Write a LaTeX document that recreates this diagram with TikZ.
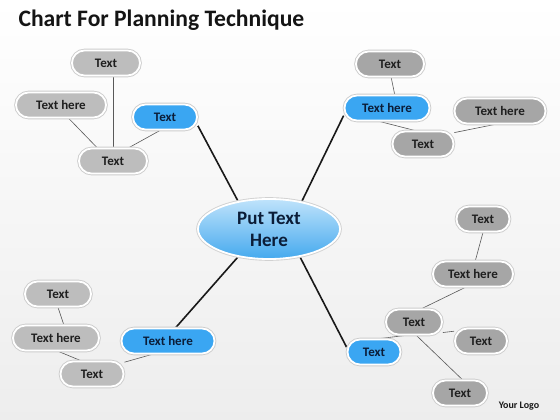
\documentclass[tikz,border=0pt]{standalone}
\usepackage{fontspec}
\setmainfont{Carlito}
\usetikzlibrary{backgrounds,calc,shapes.geometric}
\definecolor{gl}{HTML}{BDBDBD}
\definecolor{gd}{HTML}{A6A6A6}
\definecolor{bl}{HTML}{3AA6F2}
\definecolor{navy}{HTML}{0B1D38}
\definecolor{ctop}{HTML}{BFE3FB}
\definecolor{cbot}{HTML}{45A9EE}
\tikzset{
  pill/.style={rounded corners=12.5pt, minimum height=25pt, inner sep=0pt,
    draw=white, line width=1.8pt, font=\bfseries\fontsize{13}{15}\selectfont,
    preaction={draw=black!20, line width=3.6pt}},
  gpl/.style={pill, fill=gl, text=black!88},
  gpd/.style={pill, fill=gd, text=black!88},
  bpl/.style={pill, fill=bl, text=navy},
  thin/.style={draw=black!65, line width=0.6pt},
  thick/.style={draw=black!90, line width=1.6pt},
}
\begin{document}
\begin{tikzpicture}[x=1pt,y=-1pt]
\useasboundingbox (0,0) rectangle (560,420);
\node[anchor=west, font=\bfseries\fontsize{23.6}{28}\selectfont, text=black!92] (title) at (15,20) {Chart For Planning Technique};
\node[font=\bfseries\fontsize{10}{12}\selectfont, text=black!90] (logo) at (519,406) {Your Logo};

% centre
\node[ellipse, minimum width=142pt, minimum height=60pt, inner sep=0pt,
  top color=ctop, bottom color=cbot, draw=white, line width=1.8pt,
  preaction={draw=black!18, line width=3.6pt},
  align=center, font=\bfseries\fontsize{19}{22}\selectfont, text=navy] (C) at (269,229) {Put Text\\Here};

% top-left
\node[gpl, minimum width=68pt] (TL1) at (106,63) {Text};
\node[gpl, minimum width=90pt] (TL2) at (61,105) {Text here};
\node[gpl, minimum width=68pt] (TL3) at (113,161) {Text};
\node[bpl, minimum width=64pt] (TLb) at (165,117) {Text};

% top-right
\node[gpd, minimum width=68pt] (TR1) at (390,64) {Text};
\node[bpl, minimum width=85pt] (TRb) at (387,108) {Text here};
\node[gpd, minimum width=61pt] (TR3) at (423,144) {Text};
\node[gpd, minimum width=91pt] (TR4) at (500,111) {Text here};

% bottom-left
\node[gpl, minimum width=66pt] (BL1) at (58,294) {Text};
\node[gpl, minimum width=86pt] (BL2) at (56,338) {Text here};
\node[gpl, minimum width=63pt] (BL3) at (92,374) {Text};
\node[bpl, minimum width=93pt] (BLb) at (168,341) {Text here};

% bottom-right
\node[gpd, minimum width=53pt] (BR1) at (483,219) {Text};
\node[gpd, minimum width=80pt] (BR2) at (473,274) {Text here};
\node[gpd, minimum width=56pt] (BR3) at (414,322) {Text};
\node[gpd, minimum width=52pt] (BR4) at (481,341) {Text};
\node[gpd, minimum width=54pt] (BR5) at (460,393) {Text};
\node[bpl, minimum width=53pt] (BRb) at (374,352) {Text};

\begin{scope}[on background layer]
\shade[top color=white, bottom color=black!7] (0,0) rectangle (560,420);
\draw[thick] (TLb.-15) -- (C.138);
\draw[thick] (TRb.190) -- (C.40);
\draw[thick] (BLb.60) -- (C.222);
\draw[thick] (BRb.170) -- (C.318);
% top-left
\draw[thin] (TL3.north) -- (TL3.north |- TL1.south);
\draw[thin] (TL2.-60) -- (TL3.140);
\draw[thin] (TLb.-110) -- (TL3.40);
% top-right
\draw[thin] (TR1.-85) -- (TRb.60);
\draw[thin] (TRb.-120) -- (TR3.120);
\draw[thin] (TR3.20) -- (TR4.-110);
% bottom-left
\draw[thin] (BL1.-90) -- (BL2.60);
\draw[thin] (BL2.-80) -- (BL3.130);
\draw[thin] (BL3.20) -- (BLb.-140);
% bottom-right
\draw[thin] (BR1.-90) -- (BR2.80);
\draw[thin] (BR2.-120) -- (BR3.60);
\draw[thin] (BR3.-20) -- (BR4.160);
\draw[thin] (BR3.-80) -- (BR5.80);
\draw[thin] (BR3.-120) -- (BRb.70);
\end{scope}
\end{tikzpicture}
\end{document}
